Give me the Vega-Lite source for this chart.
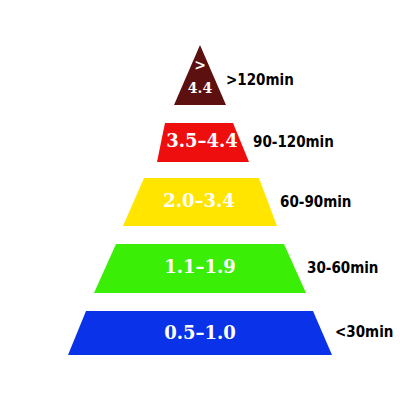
{
  "$schema": "https://vega.github.io/schema/vega-lite/v6.json",
  "width": 400,
  "height": 400,
  "autosize": {"type": "fit", "contains": "padding"},
  "padding": 0,
  "background": "white",
  "config": {"view": {"stroke": null}},
  "datasets": {
    "shapes": [
      {"tier": "t5", "y": 45, "left": 200, "right": 200},
      {"tier": "t5", "y": 105, "left": 174, "right": 226},
      {"tier": "t4", "y": 123, "left": 165, "right": 233},
      {"tier": "t4", "y": 162, "left": 157, "right": 249},
      {"tier": "t3", "y": 178, "left": 144, "right": 259},
      {"tier": "t3", "y": 226, "left": 123, "right": 277},
      {"tier": "t2", "y": 244, "left": 116, "right": 284},
      {"tier": "t2", "y": 293, "left": 94, "right": 306},
      {"tier": "t1", "y": 311, "left": 86, "right": 313},
      {"tier": "t1", "y": 355, "left": 68, "right": 332}
    ],
    "inner": [
      {"label": ">", "x": 200, "y": 66, "size": 14},
      {"label": "4.4", "x": 200, "y": 89, "size": 14},
      {"label": "3.5–4.4", "x": 202, "y": 142, "size": 18},
      {"label": "2.0–3.4", "x": 199, "y": 202, "size": 18},
      {"label": "1.1–1.9", "x": 200, "y": 268, "size": 18},
      {"label": "0.5–1.0", "x": 200, "y": 334, "size": 18}
    ],
    "side": [
      {"label": ">120min", "x": 226, "y": 80},
      {"label": "90-120min", "x": 253, "y": 142},
      {"label": "60-90min", "x": 280, "y": 202},
      {"label": "30-60min", "x": 307, "y": 268},
      {"label": "<30min", "x": 335, "y": 332}
    ]
  },
  "layer": [
    {
      "data": {"name": "shapes"},
      "mark": {"type": "area", "orient": "horizontal", "opacity": 1},
      "encoding": {
        "y": {"field": "y", "type": "quantitative", "scale": {"domain": [0, 400], "reverse": true, "nice": false, "zero": false}, "axis": null},
        "x": {"field": "left", "type": "quantitative", "scale": {"domain": [0, 400], "nice": false, "zero": false}, "axis": null},
        "x2": {"field": "right"},
        "color": {
          "field": "tier", "type": "nominal", "legend": null,
          "scale": {"domain": ["t1", "t2", "t3", "t4", "t5"], "range": ["#0a32e8", "#3bee05", "#ffe500", "#ee0e0e", "#5c1010"]}
        }
      }
    },
    {
      "data": {"name": "inner"},
      "mark": {"type": "text", "font": "DejaVu Serif", "fontWeight": "bold", "color": "white", "align": "center", "baseline": "middle"},
      "encoding": {
        "x": {"field": "x", "type": "quantitative"},
        "y": {"field": "y", "type": "quantitative"},
        "text": {"field": "label"},
        "size": {"field": "size", "type": "quantitative", "scale": null}
      }
    },
    {
      "data": {"name": "side"},
      "mark": {"type": "text", "font": "'DejaVu Sans Condensed', 'Liberation Sans Narrow', 'Roboto', sans-serif", "fontWeight": "bold", "fontSize": 15, "color": "black", "align": "left", "baseline": "middle"},
      "encoding": {
        "x": {"field": "x", "type": "quantitative"},
        "y": {"field": "y", "type": "quantitative"},
        "text": {"field": "label"}
      }
    }
  ]
}
